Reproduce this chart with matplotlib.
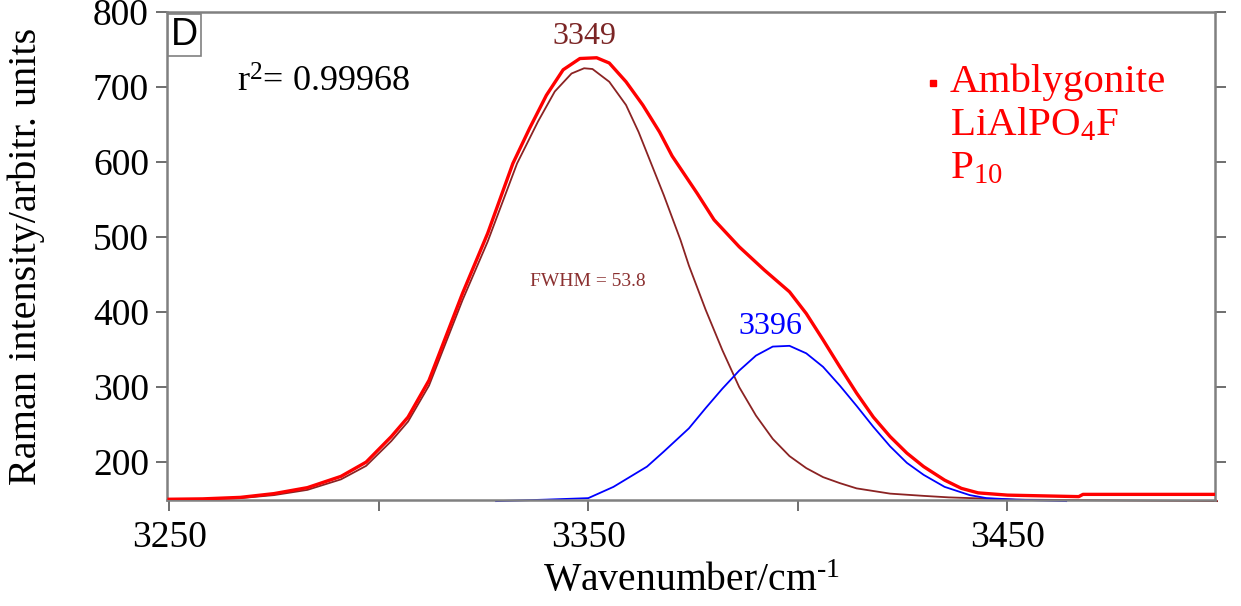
import matplotlib
matplotlib.use("Agg")
import matplotlib.pyplot as plt
from matplotlib.lines import Line2D

plt.rcParams['font.family'] = ['Liberation Serif', 'DejaVu Serif']
plt.rcParams['mathtext.fontset'] = 'custom'
plt.rcParams['mathtext.rm'] = 'Liberation Serif'
plt.rcParams['mathtext.it'] = 'Liberation Serif:italic'

# Total (fitted envelope)
total_x = [3250, 3258, 3267, 3275, 3283, 3291, 3297, 3303, 3307, 3312, 3320, 3326,
           3332, 3336, 3340, 3344, 3348, 3352, 3355, 3359, 3363, 3367, 3370,
           3376, 3380, 3386, 3392, 3398, 3402, 3406, 3410, 3414, 3418, 3422, 3426,
           3430, 3435, 3439, 3443, 3450, 3467, 3468, 3500]
total_y = [150.5, 151, 153, 158, 166, 181, 200, 234, 260, 309, 425, 505,
           598, 645, 689, 723, 738, 739, 732, 707, 676, 640, 608,
           558, 523, 487, 456, 427, 398, 363, 327, 292, 260, 234, 212,
           194, 176, 165, 159, 156, 154, 157, 157]

# Component band at 3349
c1_x = [3250, 3258, 3267, 3275, 3283, 3291, 3297, 3303, 3307, 3312, 3320, 3326,
        3333, 3338, 3342, 3346, 3349, 3351, 3355, 3359, 3362, 3365, 3368, 3372,
        3374, 3378, 3382, 3386, 3390, 3394, 3398, 3402, 3406, 3410, 3414, 3422,
        3430, 3436, 3452, 3500]
c1_y = [150, 150.5, 152, 156, 163, 177, 195, 228, 254, 302, 416, 494,
        598, 654, 694, 718, 725, 724, 707, 676, 640, 598, 556, 496,
        462, 403, 349, 300, 262, 231, 208, 192, 180, 172, 165, 158,
        155, 153, 150, 148]

# Component band at 3396
c2_x = [3328, 3340, 3350, 3356, 3364, 3368, 3374, 3378, 3382, 3386, 3390, 3394,
        3398, 3402, 3406, 3410, 3414, 3418, 3422, 3426, 3430, 3435, 3441, 3445,
        3452, 3464]
c2_y = [148, 150, 152, 167, 194, 214, 245, 272, 298, 322, 342, 354,
        355, 345, 327, 302, 275, 247, 221, 199, 183, 167, 156, 152,
        150, 148]

xticks_major = [3250, 3350, 3450]
xticks_minor = [3300, 3400]
yticks = [200, 300, 400, 500, 600, 700, 800]

W, H = 1241, 606
fig = plt.figure(figsize=(W / 100, H / 100), dpi=100)
ax = fig.add_axes([167 / W, 1 - 500 / H, (1215 - 167) / W, (500 - 12) / H])

brown = '#8B2323'
ax.plot(c1_x, c1_y, color=brown, lw=1.3, clip_on=False, zorder=2)
ax.plot(c2_x, c2_y, color='#0000FF', lw=1.3, clip_on=False, zorder=2)
ax.plot(total_x, total_y, color='#FF0000', lw=2.4, zorder=3)

ax.set_xlim(3249.5, 3499.5)
ax.set_ylim(149.5, 800)
ax.set_xticks(xticks_major)
ax.set_xticks(xticks_minor, minor=True)
ax.set_yticks(yticks)
ax.tick_params(axis='both', which='both', direction='out', length=8, width=1.2,
               color='#555555', labelsize=27)
ax.tick_params(axis='x', which='both', pad=7)
ax.tick_params(axis='y', pad=5)
ax.tick_params(axis='x', which='minor', labelbottom=False)
ax.tick_params(axis='y', right=True, left=True)
ax.tick_params(axis='x', top=False)
for s in ax.spines.values():
    s.set_color('#808080')
    s.set_linewidth(1.8)

ax.set_xlabel(r'Wavenumber/cm$^{\text{-1}}$', fontsize=28.5)
ax.xaxis.set_label_coords(0.5, -0.13)
ax.set_ylabel('Raman intensity/arbitr. units', fontsize=29)
ax.yaxis.set_label_coords(-0.116, 0.5)

ax.text(0.0035, 0.99, 'D', transform=ax.transAxes, fontsize=27,
        family=['Liberation Sans', 'DejaVu Sans'], va='top', ha='left',
        bbox=dict(boxstyle='square,pad=0.08', fc='white', ec='#808080', lw=1.2))
fig.text(237 / W, 1 - 92 / H, 'r$^2$= 0.99968', fontsize=26, va='baseline', ha='left')

ax.text(3349, 768, '3349', fontsize=23, color='#7B2525', ha='center', va='center')
ax.text(3393.5, 381, '3396', fontsize=23, color='#0000FF', ha='center', va='center')
ax.text(3349.9, 441, 'FWHM = 53.8', fontsize=14, color='#8B3030', ha='center',
        va='center')

fig.add_artist(Line2D([933 / W], [1 - 83 / H], marker='s', ms=4.5, color='#FF0000',
                      transform=fig.transFigure))
fig.text(950 / W, 1 - 92 / H, 'Amblygonite', fontsize=29.5, color='#FF0000',
         ha='left', va='baseline')
fig.text(950 / W, 1 - 135 / H, 'LiAlPO$_4$F', fontsize=29.5, color='#FF0000',
         ha='left', va='baseline')
fig.text(950 / W, 1 - 178 / H, 'P$_{10}$', fontsize=29.5, color='#FF0000',
         ha='left', va='baseline')

fig.savefig('out.png', dpi=100)
